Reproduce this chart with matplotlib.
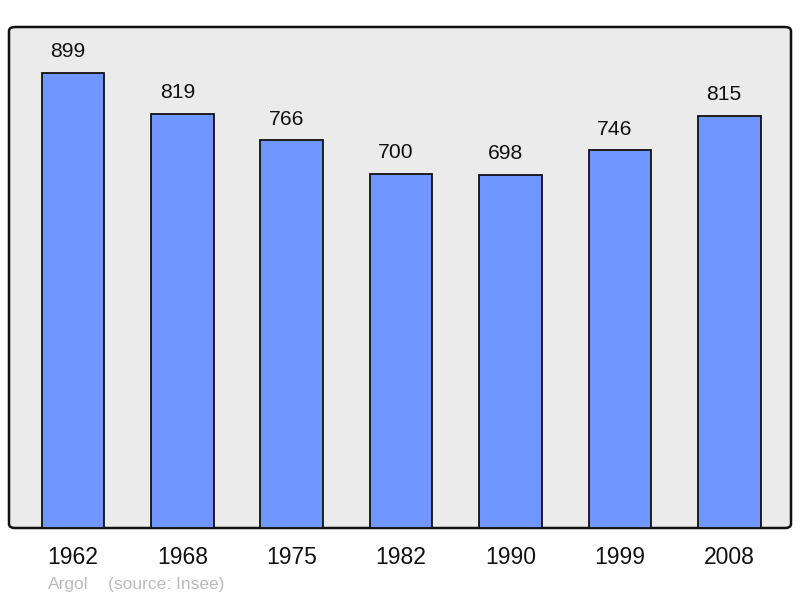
import matplotlib
matplotlib.use("Agg")
import matplotlib.pyplot as plt
from matplotlib.patches import FancyBboxPatch

years = ["1962", "1968", "1975", "1982", "1990", "1999", "2008"]
population = [899, 819, 766, 700, 698, 746, 815]
commune = "Argol"
source = "(source: Insee)"

plt.rcParams['font.family'] = ['Liberation Sans', 'DejaVu Sans']

W, H = 800, 598
fig = plt.figure(figsize=(W/100, H/100), dpi=100)
ax = fig.add_axes([9/W, (H-528)/H, (791-9)/W, (528-27)/H])
ax.patch.set_visible(False)
for s in ax.spines.values():
    s.set_visible(False)

bg = FancyBboxPatch((0, 0), 1, 1, boxstyle="round,pad=0,rounding_size=0.008",
                    transform=ax.transAxes, facecolor="#ebebeb", edgecolor="#111111",
                    linewidth=1.8, zorder=0, clip_on=False)
ax.add_patch(bg)

x = list(range(len(years)))
ax.bar(x, population, width=0.573, color="#7096ff", edgecolor="#111111",
       linewidth=1.3, zorder=2)
for xi, v in zip(x, population):
    ax.annotate(str(v), (xi, v), xytext=(-3.6, 15.2), textcoords="offset points",
                ha="center", va="center", fontsize=15.2, color="#111111")

ax.set_xlim(-0.585, 6.565)
ax.set_ylim(0, 990)
ax.set_yticks([])
ax.set_xticks(x)
ax.set_xticklabels(years, fontsize=16.5, color="#111111")
ax.tick_params(axis="x", length=0, pad=13)

fig.text(48/W, 1-585/H, commune, fontsize=12.5, color="#bbbbbb", va="center", ha="left")
fig.text(108/W, 1-585/H, source, fontsize=12.5, color="#bbbbbb", va="center", ha="left")

fig.savefig("out.png", dpi=100)
